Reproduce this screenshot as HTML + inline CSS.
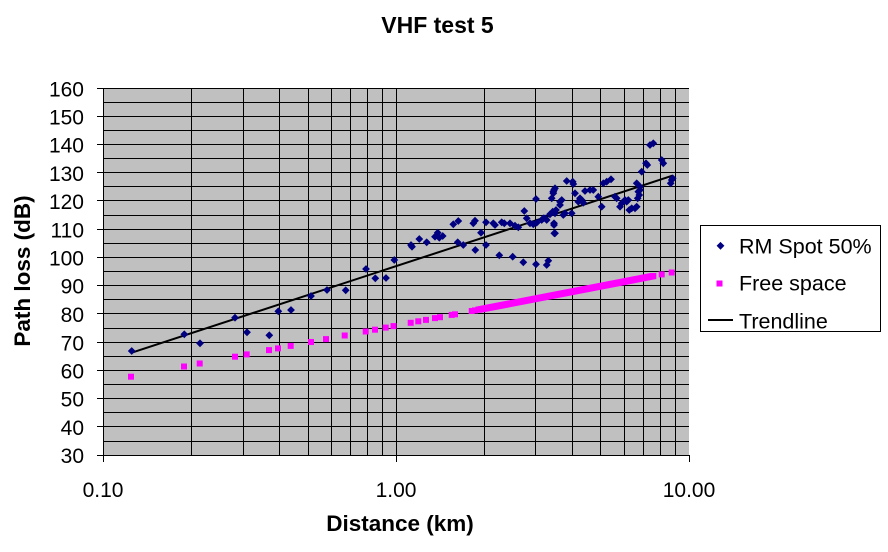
<!DOCTYPE html>
<html>
<head>
<meta charset="utf-8">
<style>
html,body{margin:0;padding:0;background:#fff;}
svg{display:block;}
text{font-family:"Liberation Sans",Arial,sans-serif;fill:#000;}
</style>
</head>
<body>
<svg width="888" height="552" viewBox="0 0 888 552" xmlns="http://www.w3.org/2000/svg">
<defs>
<path id="d" d="M0,-3.9 L3.9,0 L0,3.9 L-3.9,0 Z" fill="#000080"/>
<rect id="s" x="-3" y="-3" width="6" height="6" fill="#FF00FF"/>
</defs>
<rect width="888" height="552" fill="#fff"/>
<rect x="103" y="88" width="586" height="367" fill="#C0C0C0"/>
<g stroke="#000" stroke-width="1" shape-rendering="crispEdges">
<line x1="103" x2="689" y1="88.5" y2="88.5"/>
<line x1="103" x2="689" y1="102.5" y2="102.5"/>
<line x1="103" x2="689" y1="116.5" y2="116.5"/>
<line x1="103" x2="689" y1="130.5" y2="130.5"/>
<line x1="103" x2="689" y1="144.5" y2="144.5"/>
<line x1="103" x2="689" y1="158.5" y2="158.5"/>
<line x1="103" x2="689" y1="172.5" y2="172.5"/>
<line x1="103" x2="689" y1="186.5" y2="186.5"/>
<line x1="103" x2="689" y1="200.5" y2="200.5"/>
<line x1="103" x2="689" y1="215.5" y2="215.5"/>
<line x1="103" x2="689" y1="229.5" y2="229.5"/>
<line x1="103" x2="689" y1="243.5" y2="243.5"/>
<line x1="103" x2="689" y1="257.5" y2="257.5"/>
<line x1="103" x2="689" y1="271.5" y2="271.5"/>
<line x1="103" x2="689" y1="285.5" y2="285.5"/>
<line x1="103" x2="689" y1="299.5" y2="299.5"/>
<line x1="103" x2="689" y1="313.5" y2="313.5"/>
<line x1="103" x2="689" y1="328.5" y2="328.5"/>
<line x1="103" x2="689" y1="342.5" y2="342.5"/>
<line x1="103" x2="689" y1="356.5" y2="356.5"/>
<line x1="103" x2="689" y1="370.5" y2="370.5"/>
<line x1="103" x2="689" y1="384.5" y2="384.5"/>
<line x1="103" x2="689" y1="398.5" y2="398.5"/>
<line x1="103" x2="689" y1="412.5" y2="412.5"/>
<line x1="103" x2="689" y1="426.5" y2="426.5"/>
<line x1="103" x2="689" y1="441.5" y2="441.5"/>
<line y1="88" y2="455" x1="191.5" x2="191.5"/>
<line y1="88" y2="455" x1="243.5" x2="243.5"/>
<line y1="88" y2="455" x1="279.5" x2="279.5"/>
<line y1="88" y2="455" x1="308.5" x2="308.5"/>
<line y1="88" y2="455" x1="331.5" x2="331.5"/>
<line y1="88" y2="455" x1="350.5" x2="350.5"/>
<line y1="88" y2="455" x1="367.5" x2="367.5"/>
<line y1="88" y2="455" x1="382.5" x2="382.5"/>
<line y1="88" y2="455" x1="396.5" x2="396.5"/>
<line y1="88" y2="455" x1="484.5" x2="484.5"/>
<line y1="88" y2="455" x1="535.5" x2="535.5"/>
<line y1="88" y2="455" x1="572.5" x2="572.5"/>
<line y1="88" y2="455" x1="600.5" x2="600.5"/>
<line y1="88" y2="455" x1="624.5" x2="624.5"/>
<line y1="88" y2="455" x1="643.5" x2="643.5"/>
<line y1="88" y2="455" x1="660.5" x2="660.5"/>
<line y1="88" y2="455" x1="675.5" x2="675.5"/>
<line x1="103.5" x2="103.5" y1="88" y2="462"/>
<line x1="97" x2="689" y1="455.5" y2="455.5"/>
<line x1="396.5" x2="396.5" y1="455" y2="462"/>
<line x1="689.5" x2="689.5" y1="455" y2="462"/>
<line x1="97" x2="103" y1="88.5" y2="88.5"/>
<line x1="97" x2="103" y1="116.5" y2="116.5"/>
<line x1="97" x2="103" y1="144.5" y2="144.5"/>
<line x1="97" x2="103" y1="172.5" y2="172.5"/>
<line x1="97" x2="103" y1="200.5" y2="200.5"/>
<line x1="97" x2="103" y1="229.5" y2="229.5"/>
<line x1="97" x2="103" y1="257.5" y2="257.5"/>
<line x1="97" x2="103" y1="285.5" y2="285.5"/>
<line x1="97" x2="103" y1="313.5" y2="313.5"/>
<line x1="97" x2="103" y1="342.5" y2="342.5"/>
<line x1="97" x2="103" y1="370.5" y2="370.5"/>
<line x1="97" x2="103" y1="398.5" y2="398.5"/>
<line x1="97" x2="103" y1="426.5" y2="426.5"/>
</g>
<g font-size="21" text-anchor="end">
<text x="84" y="96.5">160</text>
<text x="84" y="124.5">150</text>
<text x="84" y="152.5">140</text>
<text x="84" y="181">130</text>
<text x="84" y="209">120</text>
<text x="84" y="237.5">110</text>
<text x="84" y="265.5">100</text>
<text x="84" y="293.5">90</text>
<text x="84" y="322">80</text>
<text x="84" y="350.5">70</text>
<text x="84" y="378.5">60</text>
<text x="84" y="406.5">50</text>
<text x="84" y="435">40</text>
<text x="84" y="463">30</text>
</g>
<g font-size="21" text-anchor="middle">
<text x="103" y="497">0.10</text>
<text x="396" y="497">1.00</text>
<text x="689" y="497">10.00</text>
</g>
<text x="437.5" y="33" font-size="23" font-weight="bold" text-anchor="middle">VHF test 5</text>
<text x="400" y="531" font-size="22.5" font-weight="bold" text-anchor="middle">Distance (km)</text>
<text transform="translate(30,271) rotate(-90)" font-size="22.5" font-weight="bold" text-anchor="middle">Path loss (dB)</text>
<g>
<use href="#s" x="131" y="376.7"/>
<use href="#s" x="184" y="366.5"/>
<use href="#s" x="199.7" y="363.5"/>
<use href="#s" x="235" y="356.7"/>
<use href="#s" x="246.7" y="354.4"/>
<use href="#s" x="269" y="350.1"/>
<use href="#s" x="278" y="348.4"/>
<use href="#s" x="290.7" y="345.9"/>
<use href="#s" x="311" y="342"/>
<use href="#s" x="326" y="339.1"/>
<use href="#s" x="344.7" y="335.5"/>
<use href="#s" x="365.7" y="331.5"/>
<use href="#s" x="375" y="329.7"/>
<use href="#s" x="385.7" y="327.6"/>
<use href="#s" x="393.5" y="326.1"/>
<use href="#s" x="410.7" y="322.8"/>
<use href="#s" x="418.3" y="321.3"/>
<use href="#s" x="426" y="319.9"/>
<use href="#s" x="435" y="318.1"/>
<use href="#s" x="440" y="317.2"/>
<use href="#s" x="451.7" y="314.9"/>
<use href="#s" x="455" y="314.3"/>
<use href="#s" x="471.7" y="311"/>
<use href="#s" x="475" y="310.4"/>
<use href="#s" x="661.7" y="274.4"/>
<use href="#s" x="671.7" y="272.5"/>
<polygon fill="#FF00FF" points="475.3,312.8 475.3,306.8 650.3,273.05 656.3,273.05 656.3,279.05 481.3,312.8"/>
</g>
<line x1="131.7" y1="352.7" x2="672.3" y2="175.7" stroke="#000" stroke-width="2"/>
<g>
<use href="#d" x="131.7" y="351"/>
<use href="#d" x="184.3" y="334.3"/>
<use href="#d" x="200" y="343.3"/>
<use href="#d" x="235" y="317.7"/>
<use href="#d" x="247" y="332.3"/>
<use href="#d" x="269.3" y="335.3"/>
<use href="#d" x="278.3" y="311.3"/>
<use href="#d" x="291" y="310"/>
<use href="#d" x="311" y="296"/>
<use href="#d" x="327" y="290"/>
<use href="#d" x="345.7" y="290.3"/>
<use href="#d" x="366" y="269"/>
<use href="#d" x="375.3" y="278.3"/>
<use href="#d" x="386" y="278"/>
<use href="#d" x="394.3" y="260"/>
<use href="#d" x="411" y="245"/>
<use href="#d" x="412" y="246.7"/>
<use href="#d" x="419.3" y="239"/>
<use href="#d" x="426.7" y="242.3"/>
<use href="#d" x="435" y="236.7"/>
<use href="#d" x="437.7" y="232.7"/>
<use href="#d" x="439.3" y="237.7"/>
<use href="#d" x="442.7" y="236"/>
<use href="#d" x="453.3" y="224.3"/>
<use href="#d" x="458.3" y="221"/>
<use href="#d" x="457.7" y="242.3"/>
<use href="#d" x="463.3" y="245"/>
<use href="#d" x="473.3" y="223.3"/>
<use href="#d" x="475" y="220.7"/>
<use href="#d" x="475.3" y="250"/>
<use href="#d" x="481" y="232.7"/>
<use href="#d" x="486" y="222.3"/>
<use href="#d" x="486" y="245"/>
<use href="#d" x="493.3" y="223.3"/>
<use href="#d" x="495" y="225"/>
<use href="#d" x="499.3" y="255.3"/>
<use href="#d" x="501.7" y="222.3"/>
<use href="#d" x="504.3" y="223.3"/>
<use href="#d" x="510" y="223.3"/>
<use href="#d" x="512.7" y="256.7"/>
<use href="#d" x="515" y="225.7"/>
<use href="#d" x="518.3" y="227.3"/>
<use href="#d" x="523.3" y="262.3"/>
<use href="#d" x="524.3" y="211"/>
<use href="#d" x="526.7" y="218.3"/>
<use href="#d" x="530" y="223.3"/>
<use href="#d" x="533.3" y="224.3"/>
<use href="#d" x="536.7" y="222.7"/>
<use href="#d" x="536" y="199"/>
<use href="#d" x="536" y="264.3"/>
<use href="#d" x="541.7" y="220"/>
<use href="#d" x="545" y="218.3"/>
<use href="#d" x="546.7" y="265"/>
<use href="#d" x="548.3" y="260.7"/>
<use href="#d" x="550" y="214.3"/>
<use href="#d" x="552.7" y="211.7"/>
<use href="#d" x="551.7" y="198.3"/>
<use href="#d" x="553.3" y="191.7"/>
<use href="#d" x="555" y="188.3"/>
<use href="#d" x="554" y="223.3"/>
<use href="#d" x="555" y="233.3"/>
<use href="#d" x="546.7" y="220"/>
<use href="#d" x="543.3" y="218.3"/>
<use href="#d" x="554" y="190"/>
<use href="#d" x="553.3" y="193.3"/>
<use href="#d" x="555" y="213.3"/>
<use href="#d" x="556" y="210"/>
<use href="#d" x="554" y="225"/>
<use href="#d" x="554.3" y="233.3"/>
<use href="#d" x="560" y="201.7"/>
<use href="#d" x="561.7" y="200"/>
<use href="#d" x="560" y="205"/>
<use href="#d" x="563.3" y="215"/>
<use href="#d" x="565" y="213.3"/>
<use href="#d" x="566.7" y="181"/>
<use href="#d" x="572.7" y="181.7"/>
<use href="#d" x="573.3" y="184"/>
<use href="#d" x="571.7" y="213.3"/>
<use href="#d" x="575" y="193.3"/>
<use href="#d" x="578.3" y="201.7"/>
<use href="#d" x="580" y="198.3"/>
<use href="#d" x="581.7" y="200"/>
<use href="#d" x="583.3" y="202.7"/>
<use href="#d" x="585" y="191"/>
<use href="#d" x="590" y="190"/>
<use href="#d" x="593.3" y="190"/>
<use href="#d" x="598.3" y="196.7"/>
<use href="#d" x="601.7" y="206.7"/>
<use href="#d" x="603.3" y="183.3"/>
<use href="#d" x="606.7" y="181.7"/>
<use href="#d" x="611" y="179.3"/>
<use href="#d" x="615" y="196.7"/>
<use href="#d" x="616.7" y="198.3"/>
<use href="#d" x="620" y="206.7"/>
<use href="#d" x="621.7" y="203.3"/>
<use href="#d" x="625" y="200"/>
<use href="#d" x="626.7" y="201.7"/>
<use href="#d" x="628.3" y="200"/>
<use href="#d" x="629.3" y="210"/>
<use href="#d" x="631.7" y="208.3"/>
<use href="#d" x="635" y="208.3"/>
<use href="#d" x="636.7" y="206.7"/>
<use href="#d" x="636.7" y="183.3"/>
<use href="#d" x="638.3" y="191.7"/>
<use href="#d" x="639.3" y="195"/>
<use href="#d" x="637.7" y="198.3"/>
<use href="#d" x="640" y="190"/>
<use href="#d" x="640" y="186.7"/>
<use href="#d" x="641.7" y="171.7"/>
<use href="#d" x="646" y="163.3"/>
<use href="#d" x="647.3" y="165"/>
<use href="#d" x="650" y="145"/>
<use href="#d" x="653.3" y="143.3"/>
<use href="#d" x="661.7" y="160"/>
<use href="#d" x="663.3" y="163.3"/>
<use href="#d" x="671.7" y="180"/>
<use href="#d" x="670.7" y="183.3"/>
<use href="#d" x="672.7" y="178.3"/>
</g>
<rect x="700.5" y="225.5" width="180" height="106" fill="#fff" stroke="#000" stroke-width="1" shape-rendering="crispEdges"/>
<use href="#d" x="720.5" y="245.8"/>
<use href="#s" x="719.5" y="283.5"/>
<line x1="708" y1="320" x2="733" y2="320" stroke="#000" stroke-width="2"/>
<g font-size="21.5">
<text x="739" y="253.3">RM Spot 50%</text>
<text x="739" y="290.7">Free space</text>
<text x="739" y="328.3">Trendline</text>
</g>
</svg>
</body>
</html>
